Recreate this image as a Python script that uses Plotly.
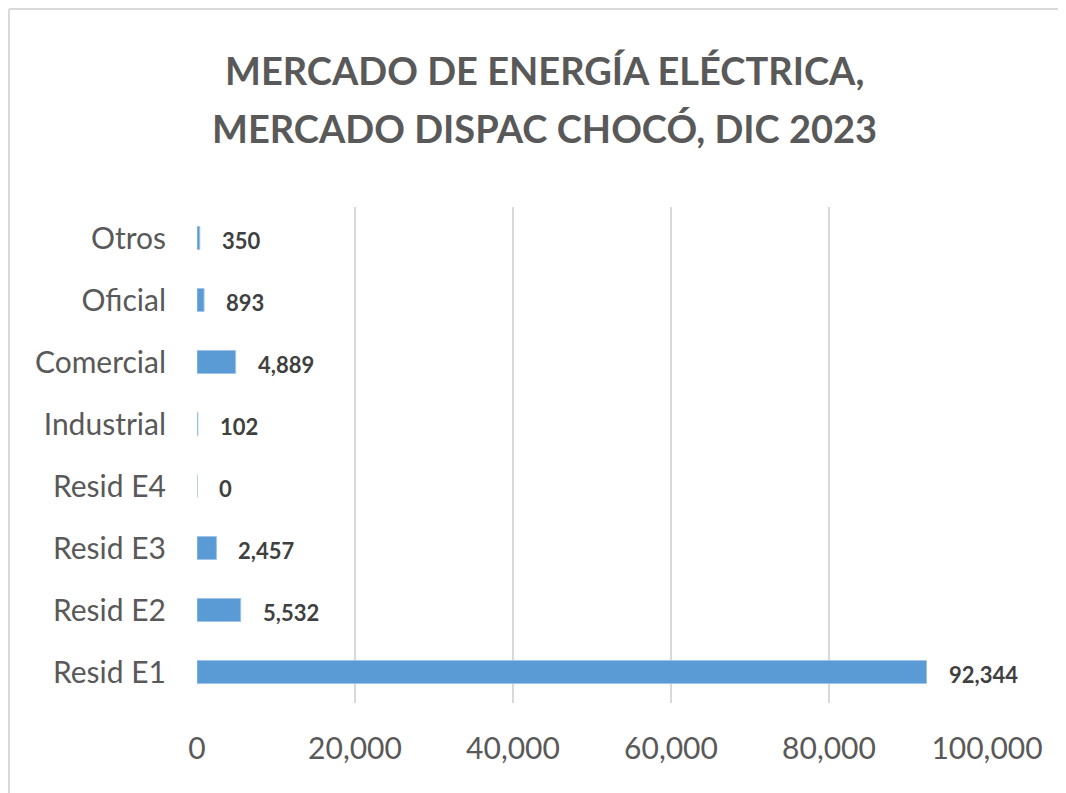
import plotly.graph_objects as go

categories = ["Resid E1", "Resid E2", "Resid E3", "Resid E4",
              "Industrial", "Comercial", "Oficial", "Otros"]
values = [92344, 5532, 2457, 0, 102, 4889, 893, 350]
x_ticks = [0, 20000, 40000, 60000, 80000, 100000]
x_tick_labels = ["0", "20,000", "40,000", "60,000", "80,000", "100,000"]
title_lines = ["MERCADO DE ENERGÍA ELÉCTRICA,", "MERCADO DISPAC CHOCÓ, DIC 2023"]

grey = "#595959"
font_name = "Lato"

fig = go.Figure()
fig.add_trace(go.Bar(
    y=categories, x=values, orientation="h",
    marker=dict(color="#5b9bd5", line=dict(color="#9dc3e6", width=1)),
    hoverinfo="x+y",
))

# value labels, a bit away from the bar ends
for cat, val in zip(categories, values):
    fig.add_annotation(
        x=val, y=cat, text="<b>{:,}</b>".format(val),
        xanchor="left", yanchor="middle", xshift=20, yshift=-2,
        showarrow=False, font=dict(family=font_name, size=22, color="#404040"),
    )

# title as two lines so the line spacing can be set
for line, ypos in zip(title_lines, [1.276, 1.159]):
    fig.add_annotation(
        x=0.4405, y=ypos, xref="paper", yref="paper",
        text="<b>" + line + "</b>", showarrow=False,
        xanchor="center", yanchor="middle",
        font=dict(family=font_name, size=38, color=grey),
    )

# frame: only top and left edges are in view
fig.add_shape(type="line", xref="paper", yref="paper",
              x0=-0.238, x1=1.3, y0=1.399, y1=1.399,
              line=dict(color="#d9d9d9", width=2), layer="below")
fig.add_shape(type="line", xref="paper", yref="paper",
              x0=-0.238, x1=-0.238, y0=1.399, y1=-0.3,
              line=dict(color="#d9d9d9", width=2), layer="below")

# page body has an 8px margin, so the figure is a bit smaller than the window
fig.update_layout(
    width=1058, height=785,
    margin=dict(l=189, r=79, t=199, b=90),
    paper_bgcolor="white", plot_bgcolor="white",
    bargap=0.63,
    showlegend=False,
    font=dict(family=font_name, color=grey),
)
fig.update_xaxes(
    range=[0, 100000], tickvals=x_ticks, ticktext=x_tick_labels,
    showgrid=True, gridcolor="#d9d9d9", gridwidth=2,
    zeroline=False, showline=False,
    tickfont=dict(size=30, color=grey), ticklabelstandoff=25,
)
fig.update_yaxes(
    type="category", categoryorder="array", categoryarray=categories,
    showgrid=False, zeroline=False, showline=False,
    tickfont=dict(size=30, color=grey), ticklabelstandoff=30,
)

fig.write_html("out.html")
